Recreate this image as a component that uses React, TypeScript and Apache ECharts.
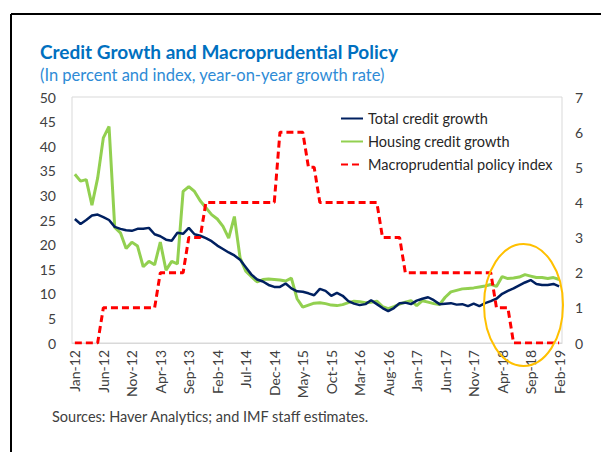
import React, { useEffect, useRef } from "react";
import * as echarts from "echarts";

const monthNames = ["Jan", "Feb", "Mar", "Apr", "May", "Jun", "Jul", "Aug", "Sep", "Oct", "Nov", "Dec"];
const startYear = 2012;
const monthCount = 86; // Jan-12 .. Feb-19
const categories: string[] = [];
for (let i = 0; i < monthCount; i++) {
  const m = i % 12;
  const y = startYear + Math.floor(i / 12);
  categories.push(`${monthNames[m]}-${String(y).slice(2)}`);
}

const totalCredit = [
  25.2, 24.2, 25.0, 25.9, 26.1, 25.6, 25.0, 23.6, 23.2, 22.9,
  22.8, 23.2, 23.2, 23.4, 22.1, 21.7, 21.0, 20.8, 22.4, 22.2,
  23.4, 22.1, 21.8, 21.3, 20.7, 19.8, 19.1, 18.4, 17.8, 16.9,
  15.4, 13.9, 12.9, 12.5, 11.8, 11.4, 11.4, 12.1, 11.1, 10.5,
  10.4, 10.1, 9.7, 11.0, 10.6, 9.6, 10.2, 9.6, 8.5, 8.0,
  7.7, 7.9, 8.7, 7.9, 7.1, 6.5, 7.1, 8.1, 8.2, 7.9,
  8.6, 9.0, 9.3, 8.7, 7.9, 8.0, 8.1, 7.8, 7.9, 7.5,
  8.0, 7.5, 8.1, 8.5, 9.0, 10.0, 10.6, 11.1, 11.7, 12.3,
  12.8, 12.0, 11.8, 11.8, 12.0, 11.5,
];

const housingCredit = [
  34.3, 32.9, 33.2, 28.0, 33.5, 41.7, 44.0, 23.5, 22.4, 19.2,
  20.5, 19.7, 15.5, 16.6, 15.9, 20.5, 14.8, 16.6, 16.1, 30.8,
  31.8, 30.8, 28.9, 27.5, 26.1, 25.2, 23.7, 21.3, 25.7, 17.3,
  14.6, 13.5, 12.4, 12.9, 13.0, 12.9, 12.8, 12.6, 13.2, 9.0,
  7.3, 7.7, 8.1, 8.2, 8.0, 7.7, 7.6, 7.8, 8.2, 8.5,
  8.4, 8.2, 8.3, 8.5, 7.4, 7.0, 7.4, 7.9, 8.3, 8.6,
  7.6, 8.6, 8.3, 8.0, 7.8, 9.3, 10.4, 10.7, 11.0, 11.1,
  11.2, 11.4, 11.6, 11.9, 11.5, 13.5, 13.1, 13.2, 13.4, 13.9,
  13.6, 13.3, 13.3, 13.1, 13.3, 12.9,
];

const policyIndex = [
  0, 0, 0, 0, 0, 1, 1, 1, 1, 1,
  1, 1, 1, 1, 1, 2, 2, 2, 2, 2,
  3, 3, 3, 4, 4, 4, 4, 4, 4, 4,
  4, 4, 4, 4, 4, 4, 6, 6, 6, 6,
  6, 5, 5, 4, 4, 4, 4, 4, 4, 4,
  4, 4, 4, 4, 3, 3, 3, 3, 2, 2,
  2, 2, 2, 2, 2, 2, 2, 2, 2, 2,
  2, 2, 2, 2, 1, 1, 1, 0, 0, 0,
  0, 0, 0, 0, 0, 0,
];

const seriesNames = ["Total credit growth", "Housing credit growth", "Macroprudential policy index"];
const titleText = "Credit Growth and Macroprudential Policy";
const subtitleText = "(In percent and index, year-on-year growth rate)";
const sourceText = "Sources: Haver Analytics; and IMF staff estimates.";

const FONT = "Lato, 'Noto Sans', sans-serif";

export default function App() {
  const ref = useRef<HTMLDivElement>(null);
  useEffect(() => {
    if (!ref.current) return;
    const chart = echarts.init(ref.current, undefined, { renderer: "svg" });
    chart.setOption({
      animation: false,
      backgroundColor: "#ffffff",
      textStyle: { fontFamily: FONT },
      grid: {
        left: 72,
        right: 39,
        top: 97,
        bottom: 109,
        show: true,
        borderColor: "#D9D9D9",
        borderWidth: 1,
      },
      legend: {
        orient: "vertical",
        left: 335,
        top: 106,
        itemWidth: 22,
        itemHeight: 14,
        itemGap: 8,
        itemStyle: { opacity: 0 },
        textStyle: { fontSize: 14.5, color: "#262626", fontFamily: FONT },
        data: seriesNames,
      },
      xAxis: {
        type: "category",
        data: categories,
        boundaryGap: true,
        axisTick: { show: false },
        axisLine: { lineStyle: { color: "#D9D9D9" } },
        axisLabel: {
          interval: 4,
          rotate: 90,
          fontSize: 14,
          color: "#404040",
          margin: 7,
          fontFamily: FONT,
        },
        splitLine: { show: false },
      },
      yAxis: [
        {
          type: "value",
          min: 0,
          max: 50,
          interval: 5,
          axisLine: { show: false },
          axisTick: { show: false },
          splitLine: { show: false },
          axisLabel: { fontSize: 14, color: "#404040", margin: 16, fontFamily: FONT },
        },
        {
          type: "value",
          min: 0,
          max: 7,
          interval: 1,
          position: "right",
          axisLine: { show: false },
          axisTick: { show: false },
          splitLine: { show: false },
          axisLabel: { fontSize: 14, color: "#404040", margin: 13, fontFamily: FONT },
        },
      ],
      series: [
        {
          name: seriesNames[0],
          type: "line",
          data: totalCredit,
          yAxisIndex: 0,
          symbol: "none",
          lineStyle: { color: "#002060", width: 2.5 },
          itemStyle: { color: "#002060" },
          z: 3,
        },
        {
          name: seriesNames[1],
          type: "line",
          data: housingCredit,
          yAxisIndex: 0,
          symbol: "none",
          lineStyle: { color: "#92D050", width: 3 },
          itemStyle: { color: "#92D050" },
          z: 2,
        },
        {
          name: seriesNames[2],
          type: "line",
          data: policyIndex,
          yAxisIndex: 1,
          symbol: "none",
          lineStyle: { color: "#FF0000", width: 3, type: [7, 4] },
          itemStyle: { color: "#FF0000" },
          z: 4,
        },
      ],
      graphic: [
        {
          type: "line",
          shape: { x1: 11, y1: 14, x2: 601, y2: 14 },
          style: { stroke: "#000000", lineWidth: 2 },
        },
        {
          type: "line",
          shape: { x1: 11, y1: 14, x2: 11, y2: 452 },
          style: { stroke: "#000000", lineWidth: 2 },
        },
        {
          type: "text",
          left: 40,
          top: 42,
          style: {
            text: titleText,
            fill: "#0070C0",
            font: `bold 19px ${FONT}`,
          },
        },
        {
          type: "text",
          left: 40,
          top: 66,
          style: {
            text: subtitleText,
            fill: "#2E8BD6",
            font: `16.5px ${FONT}`,
          },
        },
        {
          type: "text",
          left: 52,
          top: 409,
          style: {
            text: sourceText,
            fill: "#404040",
            font: `14.5px ${FONT}`,
          },
        },
        {
          type: "ellipse",
          shape: { cx: 523.5, cy: 305, rx: 39.5, ry: 61 },
          style: { fill: "none", stroke: "#FFC000", lineWidth: 2 },
          z: 100,
        },
      ],
    });
    return () => chart.dispose();
  }, []);
  return <div ref={ref} style={{ width: 601, height: 452, position: "absolute", left: 0, top: 0 }} />;
}
